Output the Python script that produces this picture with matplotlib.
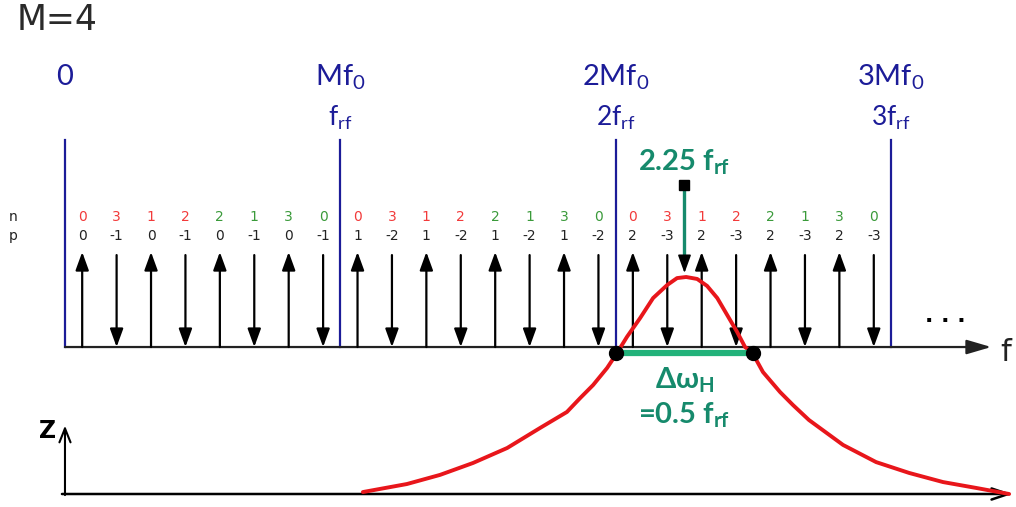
#!/usr/bin/env python3
"""Peigne de raies (n, p) pour M=4 et résonance Z centrée sur 2.25 f_rf."""
import matplotlib

matplotlib.use("Agg")
import matplotlib.pyplot as plt  # noqa: E402

plt.rcParams["mathtext.default"] = "regular"

# raies du peigne, en unités de f_rf
comb_freq = [0.0625, 0.1875, 0.3125, 0.4375, 0.5625, 0.6875, 0.8125, 0.9375,
             1.0625, 1.1875, 1.3125, 1.4375, 1.5625, 1.6875, 1.8125, 1.9375,
             2.0625, 2.1875, 2.3125, 2.4375, 2.5625, 2.6875, 2.8125, 2.9375]
comb_n = [0, 3, 1, 2, 2, 1, 3, 0,
          0, 3, 1, 2, 2, 1, 3, 0,
          0, 3, 1, 2, 2, 1, 3, 0]
comb_p = [0, -1, 0, -1, 0, -1, 0, -1,
          1, -2, 1, -2, 1, -2, 1, -2,
          2, -3, 2, -3, 2, -3, 2, -3]

harm_freq = [0, 1, 2, 3]
harm_top = ["0", "Mf$_0$", "2Mf$_0$", "3Mf$_0$"]
harm_bottom = ["", "f$_{rf}$", "2f$_{rf}$", "3f$_{rf}$"]

# résonance (impédance Z, normalisée au pic)
peak_freq = 2.25
bandwidth = 0.5
half_level = 0.652
curve_f = [1.082, 1.242, 1.362, 1.482, 1.606, 1.725, 1.823, 1.871, 1.918,
           1.969, 2.005, 2.041, 2.089, 2.136, 2.187, 2.223, 2.256, 2.296,
           2.332, 2.369, 2.405, 2.441, 2.470, 2.495, 2.535, 2.597, 2.644,
           2.702, 2.826, 2.946, 3.066, 3.189, 3.309, 3.429]
curve_z = [0.009, 0.046, 0.088, 0.143, 0.212, 0.304, 0.378, 0.442, 0.502,
           0.581, 0.650, 0.724, 0.811, 0.903, 0.963, 0.995, 1.0, 0.991,
           0.959, 0.903, 0.825, 0.747, 0.677, 0.654, 0.562, 0.470, 0.410,
           0.341, 0.226, 0.147, 0.097, 0.055, 0.028, 0.0]

NAVY = "#1c1c98"
RED_N = "#f23a3a"
GREEN_N = "#3a9a3a"
TEAL = "#168a6c"
BAR = "#22b27a"
CURVE = "#e8161b"
DARK = "#222222"

fig = plt.figure(figsize=(10.16, 5.07), dpi=100)
ax = fig.add_axes([0, 0, 1, 1])
ax.set_xlim(-0.236, 3.454)
ax.set_ylim(-1.684, 3.653)
ax.axis("off")

axz = ax.twinx()
axz.set_ylim(-0.0599, 2.2765)
axz.axis("off")

# ── Spectre ──────────────────────────────────────────────────────────────
ax.annotate("", xy=(3.364, 0), xytext=(0, 0),
            arrowprops=dict(arrowstyle="-|>,head_length=0.75,head_width=0.22",
                            color=DARK, lw=1.6, shrinkA=0, shrinkB=0,
                            mutation_scale=20))

for f, top, bottom in zip(harm_freq, harm_top, harm_bottom):
    ax.plot([f, f], [0, 2.18], color=NAVY, lw=1.6, zorder=2)
    ax.text(f, 2.842, top, color=NAVY, fontsize=21, family="Lato",
            ha="center", va="center")
    if bottom:
        ax.text(f, 2.41, bottom, color=NAVY, fontsize=19, family="Lato",
                ha="center", va="center")

for i, (f, n, p) in enumerate(zip(comb_freq, comb_n, comb_p)):
    if p >= 0:
        start, end = (f, 0), (f, 1.0)
    else:
        start, end = (f, 0.968), (f, 0)
    ax.annotate("", xy=end, xytext=start,
                arrowprops=dict(arrowstyle="-|>,head_length=0.55,head_width=0.2",
                                color="black", lw=1.6, shrinkA=0, shrinkB=0,
                                mutation_scale=20))
    col = RED_N if i % 8 < 4 else GREEN_N
    ax.text(f, 1.368, str(n), color=col, fontsize=10, ha="center", va="center")
    ax.text(f, 1.168, str(p), color=DARK, fontsize=10, ha="center", va="center")

ax.text(-0.189, 1.368, "n", color=DARK, fontsize=10, ha="center", va="center")
ax.text(-0.189, 1.168, "p", color=DARK, fontsize=10, ha="center", va="center")
ax.text(-0.174, 3.44, "M=4", color="#2a2a2a", fontsize=25, ha="left", va="center")
ax.text(3.196, 0.33, ". . .", color="black", fontsize=16, fontweight="bold",
        ha="center", va="center")
ax.text(3.415, -0.06, "f", color=DARK, fontsize=22, ha="center", va="center")

# pointeur vers le pic
ax.plot([peak_freq, peak_freq], [1.705, 0.93], color=TEAL, lw=2.4, zorder=6)
ax.annotate("", xy=(peak_freq, 0.779), xytext=(peak_freq, 0.96),
            arrowprops=dict(arrowstyle="-|>,head_length=0.55,head_width=0.2",
                            color="black", lw=1.2, shrinkA=0, shrinkB=0,
                            mutation_scale=20), zorder=6)
ax.plot(peak_freq, 1.705, "s", color="black", ms=7, zorder=7)
ax.text(peak_freq, 1.947, "2.25 f$_{rf}$", color=TEAL, fontsize=21,
        fontweight="bold", family="Lato", ha="center", va="center")
ax.text(peak_freq, -0.347, "Δω$_H$", color=TEAL, fontsize=21,
        fontweight="bold", family="Lato", ha="center", va="center")
ax.text(peak_freq, -0.716, "=0.5 f$_{rf}$", color=TEAL, fontsize=21,
        fontweight="bold", family="Lato", ha="center", va="center")

# ── Impédance Z ─────────────────────────────────────────────────────────
axz.annotate("", xy=(3.44, 0), xytext=(-0.011, 0),
             arrowprops=dict(arrowstyle="->,head_length=0.6,head_width=0.2",
                             color="black", lw=1.8, shrinkA=0, shrinkB=0,
                             mutation_scale=20))
axz.annotate("", xy=(0, 0.315), xytext=(0, -0.005),
             arrowprops=dict(arrowstyle="->,head_length=0.5,head_width=0.2",
                             color="black", lw=1.5, shrinkA=0, shrinkB=0,
                             mutation_scale=20))
axz.text(-0.062, 0.292, "Z", color="black", fontsize=17, fontweight="bold",
         ha="center", va="center")

axz.plot(curve_f, curve_z, color=CURVE, lw=2.8, solid_joinstyle="round",
         solid_capstyle="round", zorder=3)
half = [peak_freq - bandwidth / 2, peak_freq + bandwidth / 2]
axz.plot(half, [half_level, half_level], color=BAR, lw=4.5, zorder=4)
axz.plot(half, [half_level, half_level], "o", color="black", ms=10, zorder=5)

fig.savefig("out.png", dpi=100)
